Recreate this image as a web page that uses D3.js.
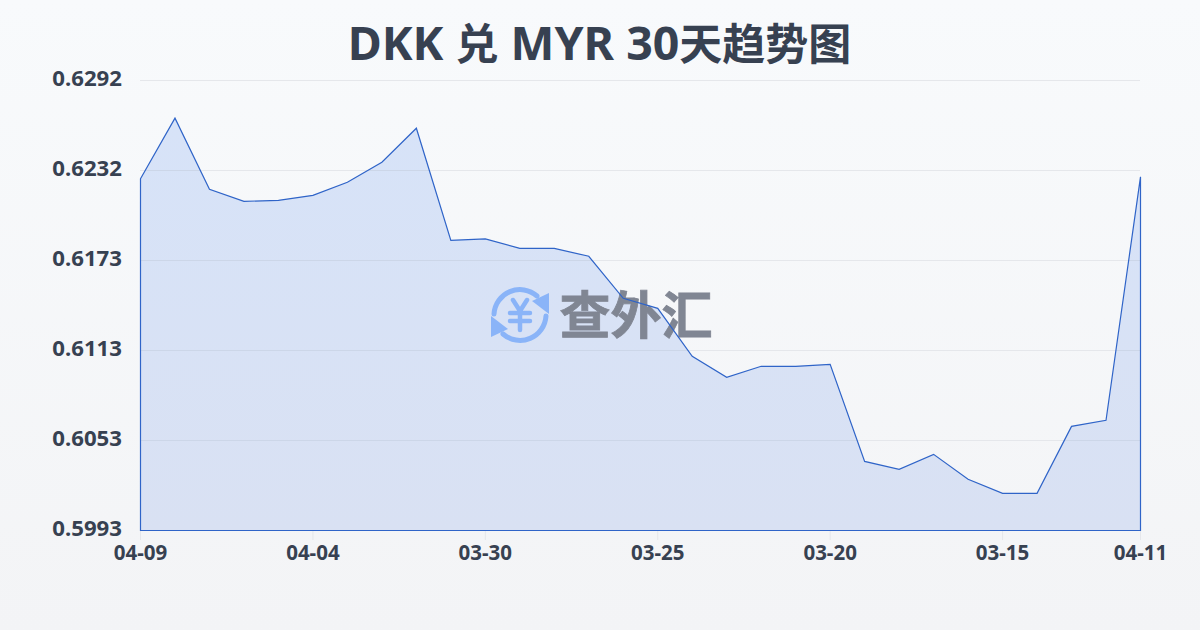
<!DOCTYPE html>
<html><head><meta charset="utf-8">
<script src="https://cdn.jsdelivr.net/npm/d3@7/dist/d3.min.js"></script>
<style>html,body{margin:0;padding:0;width:1200px;height:630px;overflow:hidden}svg{display:block}
text{font-family:"Noto Sans","Noto Sans CJK SC",sans-serif}</style></head><body>
<svg id="c" width="1200" height="630"></svg>
<script>
const titleParts = ["DKK ","兑"," MYR 30","天趋势图"];
const dates = ["04-09","04-08","04-07","04-06","04-05","04-04","04-03","04-02","04-01","03-31","03-30","03-29","03-28","03-27","03-26","03-25","03-24","03-23","03-22","03-21","03-20","03-19","03-18","03-17","03-16","03-15","03-14","03-13","03-12","04-11"];
const rates = [0.62269,0.62672,0.62199,0.62119,0.62126,0.62159,0.62246,0.62379,0.62605,0.61860,0.61870,0.61807,0.61807,0.61754,0.61475,0.61408,0.61089,0.60950,0.61023,0.61023,0.61036,0.60391,0.60338,0.60438,0.60272,0.60179,0.60179,0.60624,0.60664,0.62282];
const yTicks = [0.59932,0.6053,0.61128,0.61726,0.62324,0.62922];
const xTickLabels = ["04-09","04-04","03-30","03-25","03-20","03-15","04-11"];
const xTickIndex = [0,5,10,15,20,25,29];

const svg = d3.select("#c");
const defs = svg.append("defs");
const bg = defs.append("linearGradient").attr("id","bg").attr("x1",0).attr("y1",0).attr("x2",0).attr("y2",1);
bg.append("stop").attr("offset",0).attr("stop-color","#f8fafc");
bg.append("stop").attr("offset",1).attr("stop-color","#f3f4f6");
const fg = defs.append("linearGradient").attr("id","fg").attr("gradientUnits","userSpaceOnUse").attr("x1",0).attr("y1",118).attr("x2",0).attr("y2",530);
fg.append("stop").attr("offset",0).attr("stop-color","#d7e3f8");
fg.append("stop").attr("offset",1).attr("stop-color","#d9e1f3");
svg.append("rect").attr("width",1200).attr("height",630).attr("fill","url(#bg)");

const x = d3.scaleLinear().domain([0,dates.length-1]).range([140.5,1140.5]);
const y = d3.scaleLinear().domain([0.59932,0.62922]).range([530.5,80.5]);

svg.append("text").attr("x",599.5).attr("y",60).attr("text-anchor","middle")
  .attr("font-weight",700).attr("fill","#374151")
  .selectAll("tspan").data(titleParts).join("tspan")
  .attr("font-size",(d,i)=>i%2?43:46.5)
  .style("font-family",(d,i)=>i%2?"'Noto Sans CJK SC'":"'Noto Sans'")
  .text(d=>d).attr("xml:space","preserve").style("white-space","pre");

svg.append("g").selectAll("line").data(yTicks).join("line")
  .attr("x1",140).attr("x2",1140).attr("y1",d=>y(d)).attr("y2",d=>y(d))
  .attr("stroke","#e5e7eb").attr("stroke-width",1);
svg.append("g").selectAll("text").data(yTicks).join("text")
  .attr("x",122).attr("y",d=>y(d)+5).attr("text-anchor","end")
  .attr("font-size",22.2).attr("font-weight",700).attr("fill","#374151")
  .text(d=>d.toFixed(4));

svg.append("g").selectAll("line").data(xTickIndex).join("line")
  .attr("x1",d=>x(d)).attr("x2",d=>x(d)).attr("y1",530).attr("y2",540)
  .attr("stroke","#e5e7eb");
svg.append("g").selectAll("text").data(xTickIndex).join("text")
  .attr("x",d=>x(d)).attr("y",560).attr("text-anchor","middle")
  .attr("font-size",20.5).attr("font-weight",700).attr("fill","#374151")
  .text((d,i)=>xTickLabels[i]);

const area = d3.area().x((d,i)=>x(i)).y0(y.range()[0]).y1(d=>y(d));
svg.append("path").datum(rates).attr("d",area).attr("fill","url(#fg)");
// grid shows faintly through the fill
const clip = defs.append("clipPath").attr("id","under");
clip.append("path").datum(rates).attr("d",area);
svg.append("g").attr("clip-path","url(#under)").selectAll("line").data(yTicks.slice(1,5)).join("line")
  .attr("x1",141).attr("x2",1140).attr("y1",d=>y(d)).attr("y2",d=>y(d))
  .attr("stroke","#ccd6e8").attr("stroke-width",1);

// watermark
const wm = svg.append("g");
const blue = "#8ab4f8";
const ic = wm.append("g").attr("transform","translate(520,315)").attr("fill","none").attr("stroke",blue).attr("stroke-linecap","round");
ic.append("path").attr("d","M-26,-1 A26,26 0 0 1 17,-19").attr("stroke-width",5);
ic.append("path").attr("d","M26,1 A26,26 0 0 1 -17,19").attr("stroke-width",5);
ic.append("path").attr("d","M12,-14 L29,-22 L29,-1 Z").attr("fill",blue).attr("stroke","none");
ic.append("path").attr("d","M-12,14 L-29,22 L-29,1 Z").attr("fill",blue).attr("stroke","none");
ic.append("path").attr("d","M-7,-15 L0,-4 L7,-15 M-10,-2 H10 M-10,6 H10 M0,-3 V15").attr("stroke-width",4.5);
wm.append("text").attr("x",636).attr("y",334).attr("text-anchor","middle")
  .style("font-family","'Noto Sans CJK SC'")
  .attr("font-size",51).attr("font-weight",700).attr("fill","#808693").attr("stroke","#808693").attr("stroke-width",0.8).text("查外汇");

svg.append("path").datum(rates).attr("d",area).attr("fill","none").attr("stroke","#2f64c8").attr("stroke-width",1.2);
</script></body></html>
